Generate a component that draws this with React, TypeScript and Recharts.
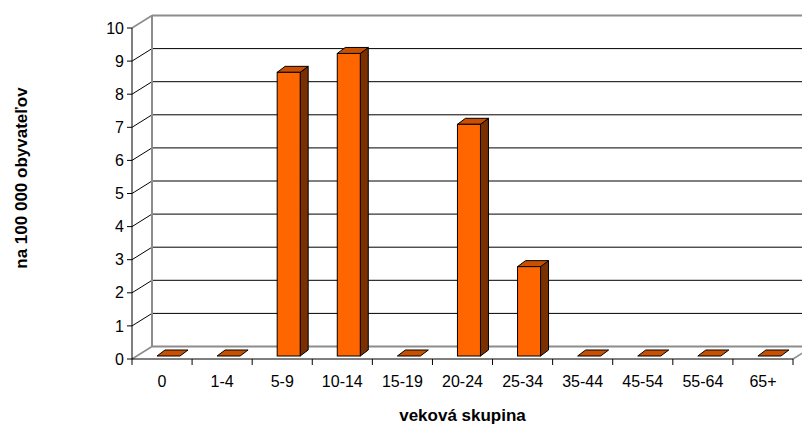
import React from 'react';
import { BarChart, Bar, XAxis, YAxis, CartesianGrid, Label } from 'recharts';

// ---- data ----
const categories = ['0', '1-4', '5-9', '10-14', '15-19', '20-24', '25-34', '35-44', '45-54', '55-64', '65+'];
const values = [0, 0, 8.57, 9.14, 0, 7.0, 2.7, 0, 0, 0, 0];
const yTicks = [0, 1, 2, 3, 4, 5, 6, 7, 8, 9, 10];
const xTitle = 'veková skupina';
const yTitle = 'na 100 000 obyvateľov';

const data = categories.map((c, i) => ({ category: c, value: values[i] }));

// ---- layout ----
const W = 802;
const H = 426;
const M = { top: 28, right: 9, bottom: 0, left: 0 };
const Y_AXIS_W = 132;
const X_AXIS_H = 67;
const PLOT_L = M.left + Y_AXIS_W;
const PLOT_R = W - M.right;
const PLOT_B = H - M.bottom - X_AXIS_H;
const PLOT_W = PLOT_R - PLOT_L;
const DEPTH_X = 20;
const DEPTH_Y = -12.5;
const BAR_OFF_X = 6;
const BAR_OFF_Y = -3;
const BAR_DX = 8;
const BAR_DY = -6;

const FONT = '"Liberation Sans", Arial, Helvetica, sans-serif';
const WALL_GRAY = '#8c8c8c';

const FRONT = '#FF6600';
const TOP = '#C85000';
const SIDE = '#7A3000';

const gridLine = (p: any) => {
  const { x1, y1, x2, y, height } = p;
  const isFloor = Math.abs(y1 - (y + height)) < 0.5;
  const isTop = Math.abs(y1 - y) < 0.5;
  const by = y1 + DEPTH_Y;
  const bx1 = x1 + DEPTH_X;
  const bx2 = x2 + DEPTH_X;
  const edge = isFloor || isTop;
  return (
    <g key={p.key}>
      <line x1={x1} y1={y1} x2={bx1} y2={by} stroke={edge ? WALL_GRAY : '#000'} strokeWidth={edge ? 1.5 : 1} />
      <line x1={bx1} y1={by} x2={bx2} y2={by} stroke={edge ? WALL_GRAY : '#000'} strokeWidth={edge ? 2 : 1} />
      {isTop && (
        <line x1={bx1} y1={by} x2={bx1} y2={y + height + DEPTH_Y} stroke={WALL_GRAY} strokeWidth={2} />
      )}
      {isFloor && <line x1={x2} y1={y1} x2={bx2} y2={by} stroke={WALL_GRAY} strokeWidth={1.5} />}
    </g>
  );
};

const Bar3D = (props: any) => {
  const { x, y, width, height } = props;
  const fx = x + BAR_OFF_X;
  const fy = y + BAR_OFF_Y;
  const w = width;
  const h = Math.max(0, height);
  const top = `${fx},${fy} ${fx + BAR_DX},${fy + BAR_DY} ${fx + w + BAR_DX},${fy + BAR_DY} ${fx + w},${fy}`;
  if (h < 0.5) {
    return (
      <g>
        <polygon points={top} fill={TOP} stroke="#000" strokeWidth={1} strokeLinejoin="round" />
      </g>
    );
  }
  const side = `${fx + w},${fy} ${fx + w + BAR_DX},${fy + BAR_DY} ${fx + w + BAR_DX},${fy + BAR_DY + h} ${fx + w},${fy + h}`;
  return (
    <g>
      <polygon points={side} fill={SIDE} stroke="#000" strokeWidth={1} strokeLinejoin="round" />
      <polygon points={top} fill={TOP} stroke="#000" strokeWidth={1} strokeLinejoin="round" />
      <rect x={fx} y={fy} width={w} height={h} fill={FRONT} stroke="#000" strokeWidth={1} />
    </g>
  );
};

const XTick = (props: any) => {
  const { x, payload, index } = props;
  const band = PLOT_W / categories.length;
  const left = x - band / 2;
  const right = x + band / 2;
  return (
    <g>
      <line x1={left} y1={PLOT_B} x2={left} y2={PLOT_B + 6} stroke="#000" strokeWidth={1} />
      {index === categories.length - 1 && (
        <line x1={right} y1={PLOT_B} x2={right} y2={PLOT_B + 6} stroke="#000" strokeWidth={1} />
      )}
      <text x={x} y={PLOT_B + 28} textAnchor="middle" fontSize={16} fontFamily={FONT} fill="#000">
        {payload.value}
      </text>
    </g>
  );
};

export default function App() {
  return (
    <div style={{ position: 'absolute', left: 0, top: 0, width: W, height: H, background: '#fff' }}>
      <BarChart width={W} height={H} data={data} margin={M} barSize={23}>
        <CartesianGrid horizontal={gridLine} vertical={false} />
        <XAxis
          dataKey="category"
          interval={0}
          height={X_AXIS_H}
          tickLine={false}
          axisLine={{ stroke: '#000', strokeWidth: 1 }}
          tick={XTick}
        >
          <Label
            content={() => (
              <text
                x={(PLOT_L + PLOT_R) / 2}
                y={421}
                textAnchor="middle"
                fontSize={17}
                fontWeight="bold"
                fontFamily={FONT}
                fill="#000"
              >
                {xTitle}
              </text>
            )}
          />
        </XAxis>
        <YAxis
          width={Y_AXIS_W}
          domain={[0, 10]}
          ticks={yTicks}
          interval={0}
          tickSize={5}
          tickMargin={3}
          axisLine={{ stroke: '#000', strokeWidth: 1 }}
          tickLine={{ stroke: '#000', strokeWidth: 1 }}
          tick={{ fontSize: 16, fontFamily: FONT, fill: '#000' }}
        >
          <Label
            content={() => (
              <text
                x={27}
                y={178}
                transform="rotate(-90, 27, 178)"
                textAnchor="middle"
                fontSize={17}
                fontWeight="bold"
                fontFamily={FONT}
                fill="#000"
              >
                {yTitle}
              </text>
            )}
          />
        </YAxis>
        <Bar dataKey="value" isAnimationActive={false} shape={Bar3D} />
      </BarChart>
    </div>
  );
}
